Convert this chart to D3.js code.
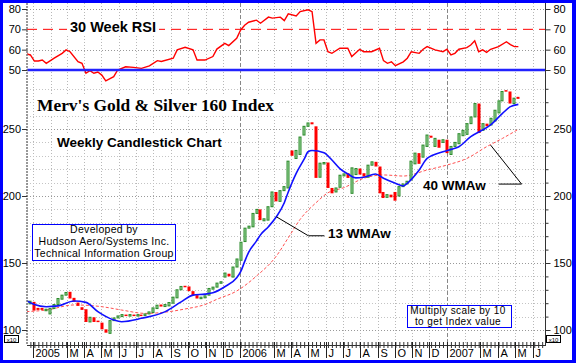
<!DOCTYPE html>
<html>
<head>
<meta charset="utf-8">
<script src="https://cdn.jsdelivr.net/npm/d3@7"></script>
<style>
body { margin: 0; background: #fff; }
svg { display: block; font-family: "Liberation Sans", Arial, sans-serif; }
</style>
</head>
<body>
<div id="chart"></div>
<script>
// Weekly candles, first one is the week of 27 Dec 2004
const firstWeek = new Date(2004, 11, 27);

const opens = [
    119.5, 121, 116.5, 116.5, 114.5, 112, 116, 119, 123, 126,
    128.5, 124, 120.5, 117, 115.5, 106, 109.5, 107, 105.5, 100.5,
    97.5, 107, 109, 110, 111.5, 110.5, 111.5, 110.5, 111.5, 111,
    112, 113, 116, 119, 117.5, 118, 120, 124, 130, 133,
    132.5, 129, 126, 123.5, 124, 126, 130.5, 132, 135, 139.5,
    142, 139.5, 147, 152, 166, 176, 177, 187, 190, 181.5,
    182, 192, 203, 196, 204, 206, 234, 228, 231, 245.5,
    252, 255, 252, 214, 224, 225, 206, 203, 206.5, 215,
    217, 202, 216, 220.5, 217, 214, 223, 225.5, 222, 203,
    199, 201, 203, 200, 207, 209, 212, 224, 232, 229,
    237, 245, 237, 242, 240, 242, 231, 237, 239, 245,
    246, 254, 259, 269, 249, 254, 253, 256, 262, 271,
    279, 278, 269, 274
];
const closes = [
    121.5, 114.5, 115, 115, 115.5, 116, 119, 123.5, 126, 128,
    123.5, 121, 118, 115, 106, 109.5, 106, 106, 100.5, 98,
    107, 109, 110.5, 111.5, 111, 111.5, 110.5, 111.5, 111, 112,
    113.5, 116.5, 118.5, 117.5, 119, 120.5, 124.5, 130, 132.5, 132,
    129, 126, 123.5, 124.5, 125.5, 131, 132, 135, 136, 142.5,
    140, 147, 153, 165.5, 176, 177.5, 187, 190, 182, 183,
    192, 203, 196, 204, 207, 226, 230, 234, 244, 252,
    254.5, 253.5, 213.5, 224.5, 225, 206, 202, 206, 215.5, 216.5,
    213.5, 221, 220.5, 216, 214.5, 223, 225.5, 222, 202, 198.5,
    201, 199, 196.5, 207, 209, 211, 226, 232, 224, 238,
    245.5, 243.5, 243, 236, 242, 232, 237, 240, 246.5, 249,
    254, 259, 269, 247, 254, 252, 258, 264, 271, 278,
    278, 269, 273, 272.5
];

// 13 week weighted MA (blue), read at some weeks
const ma13Weeks = [-1, 1, 4, 7, 11, 14, 17, 21, 23, 28, 34, 38, 41, 44, 46, 49, 52, 53, 54, 55,
    57, 58, 60, 62, 64, 65, 67, 69, 70, 71, 74, 76, 78, 80, 82, 84, 87, 89, 92, 94,
    95, 98, 100, 104, 106, 108, 111, 114, 116, 119, 121, 123];
const ma13 = [122, 119, 117.4, 118, 121.6, 120.6, 113.7, 107.5, 106.2, 108.7, 113.7, 121, 126, 126.8, 127.8, 132.3, 139, 143.5, 151, 158,
    166.5, 171, 177.1, 184.5, 195, 203, 216.9, 227.5, 233, 234, 232.3, 226.9, 220.5, 216.5, 213.5, 214, 216.4, 213.2, 209.5, 207.5,
    209.5, 219.4, 228, 233, 234.8, 236.8, 244.3, 249.3, 253, 261.7, 266.7, 268.4];

// 40 week weighted MA (red dashed)
const ma40Weeks = [-1, 4, 11, 18, 23, 29, 35, 39, 44, 47, 52, 57, 62, 65, 68, 72, 75, 79, 84, 89,
    94, 100, 105, 110, 115, 119, 123];
const ma40 = [113.7, 114.9, 118.7, 117.4, 114.9, 112.4, 113.7, 115.7, 119, 122.9, 129.1, 140.3, 155.2, 168.8, 182.6, 195, 202.4, 206.2, 213.2, 215.7,
    214.9, 219.4, 223.1, 228, 236.8, 243, 249.8];

// 30 week RSI
const rsiWeeks = [-1, 0, 1, 2, 3, 4, 6, 8, 9, 10, 12, 13, 14, 15, 16, 17, 18, 19, 21, 22,
    24, 26, 28, 30, 32, 33, 36, 37, 39, 41, 42, 44, 46, 47, 49, 50, 52, 53, 54, 55,
    57, 58, 60, 61, 63, 64, 65, 67, 68, 70, 71, 72, 73, 74, 75, 76, 78, 80, 81, 83,
    84, 86, 88, 89, 90, 91, 92, 94, 95, 96, 98, 99, 100, 102, 104, 105, 106, 107, 108, 110,
    111, 112, 113, 114, 115, 116, 118, 120, 121, 122, 123];
const rsi = [57.9, 57.4, 54.4, 54.4, 54.9, 53.3, 55.8, 58.2, 59.9, 59, 54.1, 53.3, 48.4, 49.7, 48.4, 49, 47.5, 44.7, 46.7, 50,
    51.6, 51.3, 50.8, 52, 54.6, 54.2, 55.8, 59.9, 61.2, 59.9, 54.9, 54.9, 56.6, 60.3, 63.1, 62, 65.6, 69.7, 72, 73.5,
    74.5, 73, 76, 75.5, 76, 74.3, 77.6, 76.6, 78.7, 79.6, 78.7, 63.1, 64.8, 64.8, 59, 58.2, 60.7, 60.7, 56.6, 60.2,
    59, 59, 60.7, 54.6, 53.3, 54, 52.1, 54, 55.8, 59, 58.2, 60.2, 61.5, 59.9, 59, 60.2, 57.4, 58.2, 60.2, 61,
    62.3, 64.4, 59, 59.9, 58.7, 60.2, 61.5, 63.9, 62.5, 61.5, 61.5];

const priceTicks = [100, 150, 200, 250];
const rsiTicks = [50, 60, 70, 80];
const monthLabels = ["2005", "", "M", "A", "M", "J", "J", "A", "S", "O", "N", "D",
    "2006", "", "M", "A", "M", "J", "J", "A", "S", "O", "N", "D",
    "2007", "", "M", "A", "M", "J"];

const width = 576;
const height = 363;
const plotLeft = 27, plotRight = 545, plotTop = 3, plotBottom = 345;

const svg = d3.select("#chart")
    .append("svg")
    .attr("width", width)
    .attr("height", height);

// blue frame
svg.append("rect").attr("width", width).attr("height", height).attr("fill", "#0000ff");
svg.append("rect").attr("x", 3).attr("y", 3).attr("width", 569).attr("height", 357).attr("fill", "#fff");

const x = d3.scaleTime()
    .domain([new Date(2004, 11, 21), new Date(2007, 5, 23)])
    .range([plotLeft, plotRight]);
const y = d3.scaleLinear().domain([100, 250]).range([330, 129]);
const yRsi = d3.scaleLinear().domain([50, 80]).range([70, 9]);
const weekDate = i => d3.timeWeek.offset(firstWeek, i);
const months = d3.timeMonth.range(new Date(2005, 0, 1), new Date(2007, 6, 1));

svg.append("defs").append("clipPath").attr("id", "plot")
    .append("rect").attr("x", plotLeft).attr("y", plotTop)
    .attr("width", plotRight - plotLeft).attr("height", plotBottom - plotTop);

// dotted grid
const grid = svg.append("g").attr("stroke", "#b8b8b8").attr("stroke-dasharray", "1,2");
months.forEach(m => {
    grid.append("line").attr("x1", Math.round(x(m)) + 0.5).attr("x2", Math.round(x(m)) + 0.5)
        .attr("y1", plotTop).attr("y2", plotBottom);
});
d3.range(100, 290, 10).forEach(v => {
    grid.append("line").attr("x1", plotLeft).attr("x2", plotRight)
        .attr("y1", Math.round(y(v)) + 0.5).attr("y2", Math.round(y(v)) + 0.5)
        .attr("stroke", v % 50 === 0 ? "#999" : "#c4c4c4");
});
[60, 80].forEach(v => {
    grid.append("line").attr("x1", plotLeft).attr("x2", plotRight)
        .attr("y1", Math.round(yRsi(v)) + 0.5).attr("y2", Math.round(yRsi(v)) + 0.5)
        .attr("stroke", "#999");
});

// year lines
[new Date(2006, 0, 1), new Date(2007, 0, 1)].forEach(d => {
    svg.append("line").attr("x1", Math.round(x(d)) + 0.5).attr("x2", Math.round(x(d)) + 0.5)
        .attr("y1", plotTop).attr("y2", plotBottom)
        .attr("stroke", "#888").attr("stroke-dasharray", "4,2");
});

// RSI reference lines
svg.append("line").attr("x1", plotLeft).attr("x2", plotRight)
    .attr("y1", yRsi(70)).attr("y2", yRsi(70))
    .attr("stroke", "#ff0000").attr("stroke-dasharray", "10,6");

const plot = svg.append("g").attr("clip-path", "url(#plot)");

// RSI line
plot.append("path")
    .datum(rsiWeeks.map((w, i) => [weekDate(w), rsi[i]]))
    .attr("fill", "none").attr("stroke", "#ff0000").attr("stroke-width", 1.4)
    .attr("d", d3.line().x(d => x(d[0])).y(d => yRsi(d[1])));

svg.append("line").attr("x1", plotLeft).attr("x2", plotRight)
    .attr("y1", yRsi(50)).attr("y2", yRsi(50))
    .attr("stroke", "#2222ff").attr("stroke-width", 2.5);

// moving averages
plot.append("path")
    .datum(ma40Weeks.map((w, i) => [weekDate(w), ma40[i]]))
    .attr("fill", "none").attr("stroke", "#ff5050").attr("stroke-width", 1)
    .attr("stroke-dasharray", "3,2")
    .attr("d", d3.line().curve(d3.curveMonotoneX).x(d => x(d[0])).y(d => y(d[1])));

// candles
const candles = closes.map((c, i) => ({ date: weekDate(i), open: opens[i], close: c }));
plot.selectAll(".candle")
    .data(candles)
    .enter()
    .append("rect")
    .attr("class", "candle")
    .attr("x", d => Math.round(x(d.date)) - (d.close >= d.open ? 1 : 1.5))
    .attr("y", d => y(Math.max(d.open, d.close)))
    .attr("width", d => d.close >= d.open ? 2 : 3)
    .attr("height", d => Math.max(1.5, Math.abs(y(d.open) - y(d.close))))
    .attr("fill", d => d.close >= d.open ? "#a6dca6" : "#ff0000")
    .attr("stroke", d => d.close >= d.open ? "#2a8a2a" : "none")
    .attr("stroke-width", 1);

plot.append("path")
    .datum(ma13Weeks.map((w, i) => [weekDate(w), ma13[i]]))
    .attr("fill", "none").attr("stroke", "#1010ff").attr("stroke-width", 1.6)
    .attr("d", d3.line().curve(d3.curveMonotoneX).x(d => x(d[0])).y(d => y(d[1])));

// axes lines
svg.append("line").attr("x1", plotLeft).attr("x2", plotLeft).attr("y1", plotTop).attr("y2", plotBottom)
    .attr("stroke", "#777").attr("stroke-width", 1.5).attr("stroke-dasharray", "2,1");
svg.append("line").attr("x1", plotRight + 0.5).attr("x2", plotRight + 0.5).attr("y1", plotTop).attr("y2", plotBottom)
    .attr("stroke", "#333");
svg.append("line").attr("x1", plotLeft).attr("x2", plotRight + 1).attr("y1", plotBottom + 0.5).attr("y2", plotBottom + 0.5)
    .attr("stroke", "#333");

function styleAxis(g) {
    g.select(".domain").remove();
    g.selectAll("text").attr("font-size", "11px").attr("fill", "#000")
        .attr("font-family", "Liberation Sans, Arial, sans-serif");
    g.selectAll("line").attr("stroke", "#333");
}

svg.append("g").attr("transform", `translate(${plotLeft},0)`)
    .call(d3.axisLeft(y).tickValues(priceTicks).tickSize(5).tickPadding(1)).call(styleAxis);
svg.append("g").attr("transform", `translate(${plotRight + 0.5},0)`)
    .call(d3.axisRight(y).tickValues(priceTicks).tickSize(5).tickPadding(3)).call(styleAxis);
svg.append("g").attr("transform", `translate(${plotRight + 0.5},0)`)
    .call(d3.axisRight(y).tickValues(d3.range(100, 290, 10)).tickSize(3).tickFormat("")).call(styleAxis);
svg.append("g").attr("transform", `translate(${plotLeft},0)`)
    .call(d3.axisLeft(yRsi).tickValues(rsiTicks).tickSize(5).tickPadding(1)).call(styleAxis);
svg.append("g").attr("transform", `translate(${plotRight + 0.5},0)`)
    .call(d3.axisRight(yRsi).tickValues(rsiTicks).tickSize(5).tickPadding(3)).call(styleAxis);

// time axis: weekly ticks, month separators and labels
svg.append("g").attr("transform", `translate(0,${plotBottom - 3})`)
    .call(d3.axisBottom(x).ticks(d3.timeMonday.every(1)).tickSize(6).tickFormat(""))
    .call(styleAxis);
months.forEach((m, i) => {
    if (!monthLabels[i]) return;
    const mx = Math.round(x(m)) + 0.5;
    svg.append("line").attr("x1", mx).attr("x2", mx).attr("y1", plotBottom - 3).attr("y2", 358)
        .attr("stroke", "#222");
    svg.append("text").attr("x", mx + 2).attr("y", 357)
        .attr("font-size", "11px").text(monthLabels[i]);
});

// x10 boxes
[[4, 335], [546, 335]].forEach(p => {
    svg.append("rect").attr("x", p[0] + 0.5).attr("y", p[1] + 0.5).attr("width", 14).attr("height", 7)
        .attr("fill", "#fff").attr("stroke", "#000");
    svg.append("text").attr("x", p[0] + 7.5).attr("y", p[1] + 6.5).attr("text-anchor", "middle")
        .attr("font-size", "6px").text("x10");
});

// labels with white backing
function label(tx, ty, str, size, weight, family, anchor) {
    const g = svg.append("g");
    const t = g.append("text").attr("x", tx).attr("y", ty)
        .attr("font-size", size).attr("font-weight", weight || "normal")
        .attr("font-family", family || "Liberation Sans, Arial, sans-serif")
        .attr("text-anchor", anchor || "start").text(str);
    const b = t.node().getBBox();
    g.insert("rect", "text").attr("x", b.x - 3).attr("y", b.y).attr("width", b.width + 6).attr("height", b.height)
        .attr("fill", "#fff");
    return t;
}

label(70, 32, "30 Week RSI", "14.5px", "bold");
label(37, 111, "Merv's Gold & Silver 160 Index", "17.4px", "bold", "Liberation Serif, Times New Roman, serif");
label(57, 147, "Weekly Candlestick Chart", "13.5px", "bold");

// pointer for 13 WMAw
const p13 = [x(weekDate(62)), y(184.5)];
svg.append("path").attr("fill", "none").attr("stroke", "#000")
    .attr("d", `M${p13[0]},${p13[1]}L${p13[0] + 32},${p13[1] + 19}L${p13[0] + 48},${p13[1] + 19}`);
label(328, 238, "13 WMAw", "13.5px", "bold");

// pointer for 40 WMAw
const p40 = [x(weekDate(116)), y(238)];
svg.append("path").attr("fill", "none").attr("stroke", "#000")
    .attr("d", `M${p40[0]},${p40[1]}L${p40[0] + 31},${p40[1] + 39}L${p40[0] + 8},${p40[1] + 39}`);
label(423, 190, "40 WMAw", "13.5px", "bold");

// info boxes
svg.append("rect").attr("x", 32.5).attr("y", 224.5).attr("width", 143).attr("height", 36)
    .attr("fill", "#fff").attr("stroke", "#0000ff");
["Developed by", "Hudson Aero/Systems Inc.", "Technical Information Group"].forEach((s, i) => {
    svg.append("text").attr("x", 104).attr("y", 233 + i * 12).attr("text-anchor", "middle")
        .attr("font-size", "10.5px").attr("letter-spacing", "0.3px").text(s);
});

svg.append("rect").attr("x", 407.5).attr("y", 305.5).attr("width", 104).attr("height", 22)
    .attr("fill", "#fff").attr("stroke", "#0000ff");
["Multiply scale by 10", "to get Index value"].forEach((s, i) => {
    svg.append("text").attr("x", 458).attr("y", 314 + i * 11).attr("text-anchor", "middle")
        .attr("font-size", "10px").attr("letter-spacing", "0.4px").text(s);
});
</script>
</body>
</html>
